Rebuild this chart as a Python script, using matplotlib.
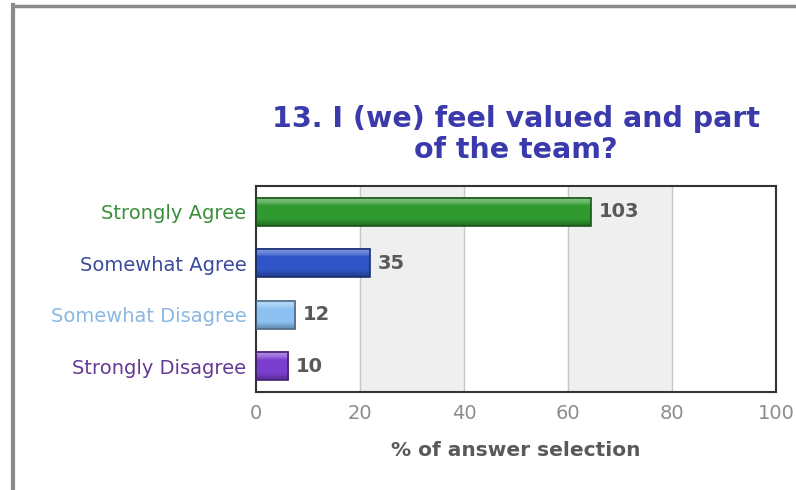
import numpy as np
import matplotlib.pyplot as plt
from matplotlib.colors import LinearSegmentedColormap, to_rgb
from matplotlib.lines import Line2D

categories = ['Strongly Agree', 'Somewhat Agree', 'Somewhat Disagree', 'Strongly Disagree']
counts = [103, 35, 12, 10]
bar_colors = ['#2f9a2f', '#2f55c8', '#8cc2f2', '#7b3fd0']
label_colors = ['#3a8f3a', '#3b4b9c', '#8ab8e2', '#653a94']
ticks = [0, 20, 40, 60, 80, 100]

total = sum(counts)
pct = [c / total * 100 for c in counts]

fig = plt.figure(figsize=(7.96, 4.9), dpi=100)
fig.patch.set_facecolor('white')

# panel border on left and top
fig.add_artist(Line2D([0.0163, 0.0163], [0, 0.99], transform=fig.transFigure,
                      color='#8a8a8a', lw=3))
fig.add_artist(Line2D([0.0163, 1.0], [0.9878, 0.9878], transform=fig.transFigure,
                      color='#8a8a8a', lw=2.5))

ax = fig.add_axes([0.3216, 0.2, 0.6533, 0.4204])

# alternating background bands and grid lines
for i in range(len(ticks) - 1):
    if i % 2 == 1:
        ax.axvspan(ticks[i], ticks[i + 1], color='#efefef', zorder=0)
for t in ticks[1:-1]:
    ax.axvline(t, color='#c8c8c8', lw=1, zorder=1)


def shade(c, f):
    rgb = np.array(to_rgb(c))
    if f > 0:
        return tuple(rgb + (1 - rgb) * f)
    return tuple(rgb * (1 + f))


bh = 0.55
grad = np.linspace(0, 1, 64).reshape(-1, 1)
for i, (p, n, c) in enumerate(zip(pct, counts, bar_colors)):
    cmap = LinearSegmentedColormap.from_list(
        'g', [(0, shade(c, 0.45)), (0.18, shade(c, 0.25)), (0.3, c),
              (0.75, c), (1, shade(c, -0.3))])
    ax.imshow(grad, cmap=cmap, aspect='auto', zorder=2,
              extent=[0, p, i + bh / 2, i - bh / 2], interpolation='bilinear')
    ax.add_patch(plt.Rectangle((0, i - bh / 2), p, bh, fill=False,
                               edgecolor=shade(c, -0.45), lw=1.2, zorder=3))
    ax.text(p + 1.5, i, str(n), va='center', ha='left', fontsize=14,
            fontweight='bold', color='#595959', zorder=4)

ax.set_xlim(0, 100)
ax.set_ylim(len(categories) - 0.5, -0.5)
ax.set_xticks(ticks)
ax.set_xticklabels([str(t) for t in ticks], color='#8c8c8c', fontsize=14)
ax.set_yticks(range(len(categories)))
ax.set_yticklabels(categories, fontsize=14)
for lbl, col in zip(ax.get_yticklabels(), label_colors):
    lbl.set_color(col)
ax.tick_params(length=0)
ax.tick_params(axis='x', pad=8.5)
ax.tick_params(axis='y', pad=7)
for s in ax.spines.values():
    s.set_color('#333333')
    s.set_linewidth(1.5)

ax.set_xlabel('% of answer selection', fontsize=14.5, fontweight='bold',
              color='#595959', labelpad=13)

fig.text(0.6482, 0.7255, '13. I (we) feel valued and part\nof the team?',
         ha='center', va='center', fontsize=20.5, fontweight='bold',
         color='#3a3aac', linespacing=1.14)

fig.savefig('out.png', dpi=100)
